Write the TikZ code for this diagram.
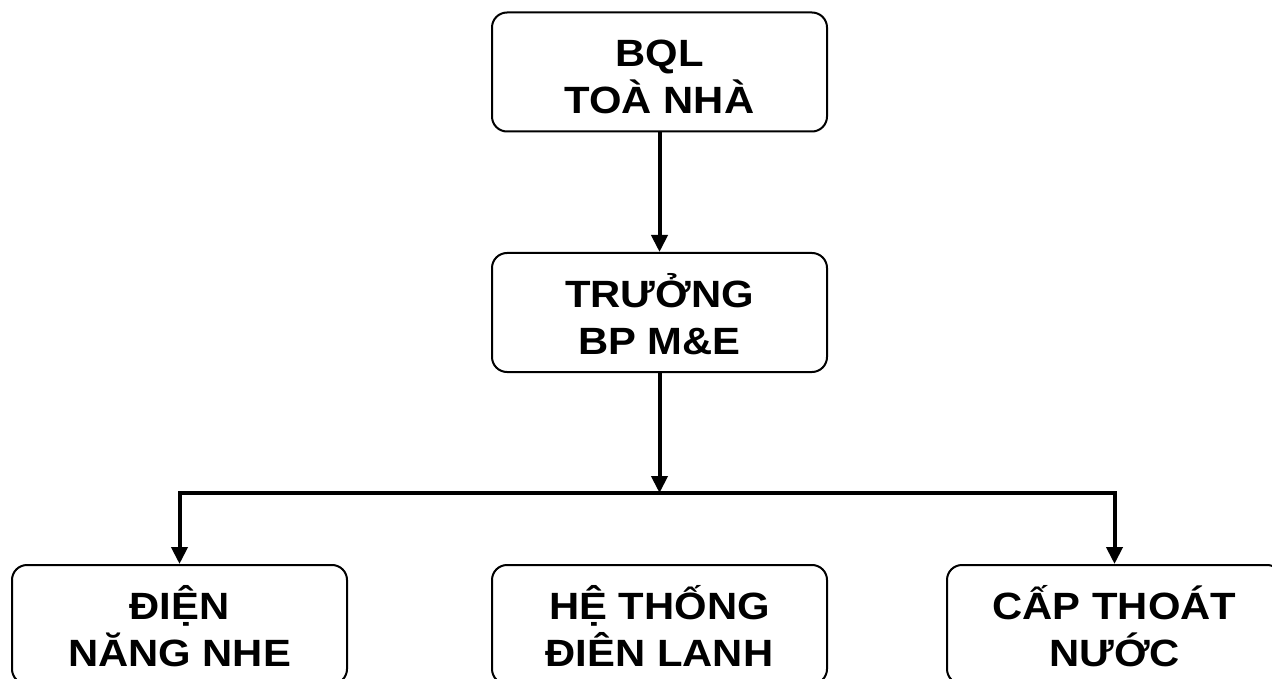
\documentclass[tikz,border=0pt]{standalone}
\usepackage{fontspec}
\setmainfont[FakeStretch=1.1]{Liberation Sans}
\usetikzlibrary{arrows.meta}
\begin{document}
\begin{tikzpicture}[x=1pt, y=-1pt,
	box/.style={draw, line width=2pt, rounded corners=15pt, minimum width=335pt, minimum height=119pt, inner sep=0pt, align=center, text height=84pt, text depth=0pt, font=\fontsize{38}{47}\selectfont\bfseries},
	conn/.style={line width=4pt, -{Triangle[length=17pt, width=16pt]}, line join=miter}]
	\useasboundingbox (0,0) rectangle (1272,679);
	\clip (0,0) rectangle (1272,679);
	
	%Leitung
	\node[box] (bql) at (659.5, 72) {BQL\\TOÀ NHÀ};
	\node[box] (truong) at (659.5, 312.5) {TRƯỞNG\\BP M\&E};
	
	%Abteilungen
	\node[box] (dien) at (179.5, 624.5) {ĐIỆN\\NĂNG NHE};
	\node[box] (lanh) at (659.5, 624.5) {HỆ THỐNG\\ĐIÊN LANH};
	\node[box] (nuoc) at (1114.5, 624.5) {CẤP THOÁT\\NƯỚC};
	
	\coordinate (split) at (659.5, 493);
	
	\draw[conn] (bql) -- (truong);
	\draw[conn] (truong) -- (split);
	\draw[conn] (split) -| (dien);
	\draw[conn] (split) -| (nuoc);
\end{tikzpicture}
\end{document}
